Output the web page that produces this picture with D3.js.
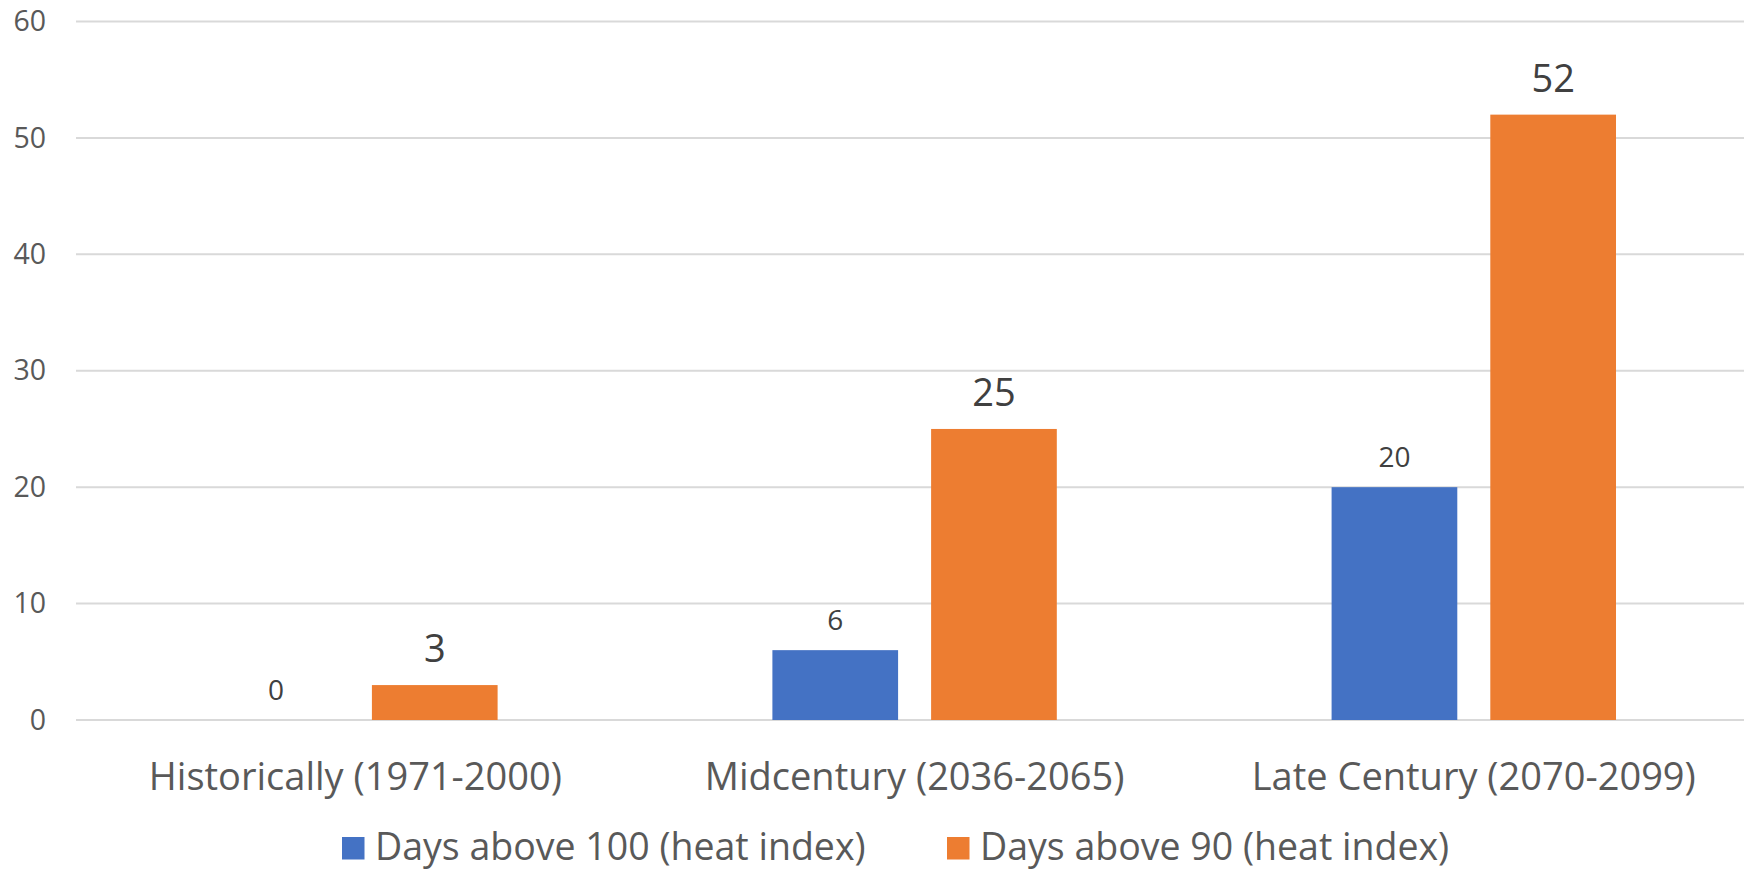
<!DOCTYPE html>
<html>
<head>
<meta charset="utf-8">
<script src="https://cdn.jsdelivr.net/npm/d3@7"></script>
<style>
  html, body { margin: 0; padding: 0; background: #fff; }
  svg { display: block; font-family: "Open Sans", "Noto Sans", sans-serif; }
</style>
</head>
<body>
<svg id="chart" width="1744" height="871"></svg>
<script>
// Projected number of hot days per period
const categories = ["Historically (1971-2000)", "Midcentury (2036-2065)", "Late Century (2070-2099)"];
const seriesNames = ["Days above 100 (heat index)", "Days above 90 (heat index)"];
const daysAbove100 = [0, 6, 20];
const daysAbove90 = [3, 25, 52];
const yTicks = [0, 10, 20, 30, 40, 50, 60];

const colors = ["#4472C4", "#ED7D31"];
const seriesValues = [daysAbove100, daysAbove90];
const labelSizes = [28, 38];

const svg = d3.select("#chart");

const x0 = d3.scaleBand().domain(categories).range([75.8, 1753.4]).padding(0);
const bw = x0.bandwidth();
const x1 = d3.scaleBand().domain(seriesNames)
  .range([bw * 0.2457, bw * 0.7543])
  .paddingInner(0.208).paddingOuter(0);
const y = d3.scaleLinear().domain([0, 60]).range([720, 21.5]);

// gridlines
svg.append("g").selectAll("line")
  .data(yTicks)
  .join("line")
  .attr("x1", 76).attr("x2", 1744)
  .attr("y1", d => y(d)).attr("y2", d => y(d))
  .attr("stroke", "#d9d9d9").attr("stroke-width", 2);

// y axis labels
const yAxis = d3.axisLeft(y).tickValues(yTicks).tickSize(0).tickPadding(0);
const gy = svg.append("g").attr("transform", "translate(46,0)").call(yAxis);
gy.select(".domain").remove();
gy.selectAll("text")
  .attr("font-family", "Open Sans")
  .attr("font-size", 28.5)
  .attr("fill", "#595959");

// bars
const rows = categories.map((c, i) => ({ cat: c, vals: seriesNames.map((s, k) => ({ s, k, v: seriesValues[k][i] })) }));
const groups = svg.append("g").selectAll("g")
  .data(rows)
  .join("g")
  .attr("transform", d => `translate(${x0(d.cat)},0)`);

groups.selectAll("rect")
  .data(d => d.vals)
  .join("rect")
  .attr("x", d => x1(d.s))
  .attr("width", x1.bandwidth())
  .attr("y", d => y(d.v))
  .attr("height", d => y(0) - y(d.v))
  .attr("fill", d => colors[d.k]);

groups.selectAll("text.val")
  .data(d => d.vals)
  .join("text")
  .attr("class", "val")
  .attr("x", d => x1(d.s) + x1.bandwidth() / 2)
  .attr("y", d => y(d.v) - (d.k === 0 ? 20 : 23))
  .attr("text-anchor", "middle")
  .attr("font-size", d => labelSizes[d.k])
  .attr("fill", "#404040")
  .text(d => d.v);

// category labels
svg.append("g").selectAll("text")
  .data(categories)
  .join("text")
  .attr("x", d => x0(d) + bw / 2)
  .attr("y", 790)
  .attr("text-anchor", "middle")
  .attr("font-size", 38)
  .attr("fill", "#595959")
  .text(d => d);

// legend
const legendX = [342, 947];
const legend = svg.append("g").selectAll("g")
  .data(seriesNames)
  .join("g")
  .attr("transform", (d, i) => `translate(${legendX[i]},837)`);
legend.append("rect")
  .attr("width", 22.5).attr("height", 22.5)
  .attr("fill", (d, i) => colors[i]);
legend.append("text")
  .attr("x", 33).attr("y", 23)
  .attr("font-size", 37.5)
  .attr("fill", "#595959")
  .text(d => d);
</script>
</body>
</html>
